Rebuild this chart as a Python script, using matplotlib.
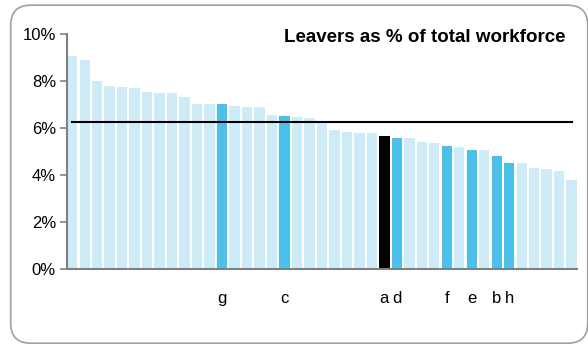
import numpy as np
import matplotlib as mpl
mpl.use('Agg')
import matplotlib.pyplot as plt
from matplotlib.patches import FancyBboxPatch

plt.rcParams['font.family'] = ['Liberation Sans', 'DejaVu Sans']

# leavers as % of total workforce, one bar per organisation, sorted high to low
leavers_pct = [9.04, 8.87, 8.00, 7.79, 7.75, 7.71, 7.54, 7.49, 7.49, 7.32,
               7.02, 7.02, 7.02, 6.94, 6.90, 6.90, 6.55, 6.51, 6.47, 6.43,
               6.25, 5.91, 5.83, 5.79, 5.79, 5.66, 5.57, 5.57, 5.40, 5.36,
               5.23, 5.19, 5.06, 5.06, 4.81, 4.51, 4.51, 4.29, 4.25, 4.17,
               3.78]
# named organisations: bar index -> label
named = {12: 'g', 17: 'c', 25: 'a', 26: 'd', 30: 'f', 32: 'e', 34: 'b', 35: 'h'}
own_org = 25
average_pct = 6.24

light = '#cdecf8'
mid = '#4bc1ea'

x = np.arange(len(leavers_pct))
colors = []
for i in x:
    if i == own_org:
        colors.append('black')
    elif i in named:
        colors.append(mid)
    else:
        colors.append(light)

fig = plt.figure(figsize=(5.88, 3.44), dpi=100)
ax = fig.add_axes([0.114, 0.219, 0.867, 0.683])

ax.bar(x, leavers_pct, width=0.83, color=colors, zorder=2)
ax.plot([x[0], x[-1]], [average_pct, average_pct], color='black', lw=1.5, zorder=3)

ax.set_xlim(-0.415, len(x) - 1 + 0.415)
ax.set_ylim(0, 10)
ax.set_yticks(range(0, 11, 2))
ax.set_yticklabels(['%d%%' % v for v in range(0, 11, 2)], fontsize=12)
ax.set_xticks(list(named.keys()))
ax.set_xticklabels(list(named.values()), fontsize=12)
ax.tick_params(axis='x', length=0, pad=16)
ax.tick_params(axis='y', length=5, width=1.2, color='#808080', pad=3)

for side in ['top', 'right']:
    ax.spines[side].set_visible(False)
for side in ['left', 'bottom']:
    ax.spines[side].set_color('#808080')
    ax.spines[side].set_linewidth(1.5)

fig.text(566 / 588, 1 - 37 / 344, 'Leavers as % of total workforce',
         ha='right', va='center', fontsize=13.5, fontweight='bold')

# rounded frame round the whole chart (inches)
frame = FancyBboxPatch((0.107, 0.008), 5.77, 3.38, transform=fig.dpi_scale_trans,
                       boxstyle='round,pad=0,rounding_size=0.2',
                       fc='none', ec='#a0a0a0', lw=1.2)
fig.patches.append(frame)

fig.savefig('out.png', dpi=100)
